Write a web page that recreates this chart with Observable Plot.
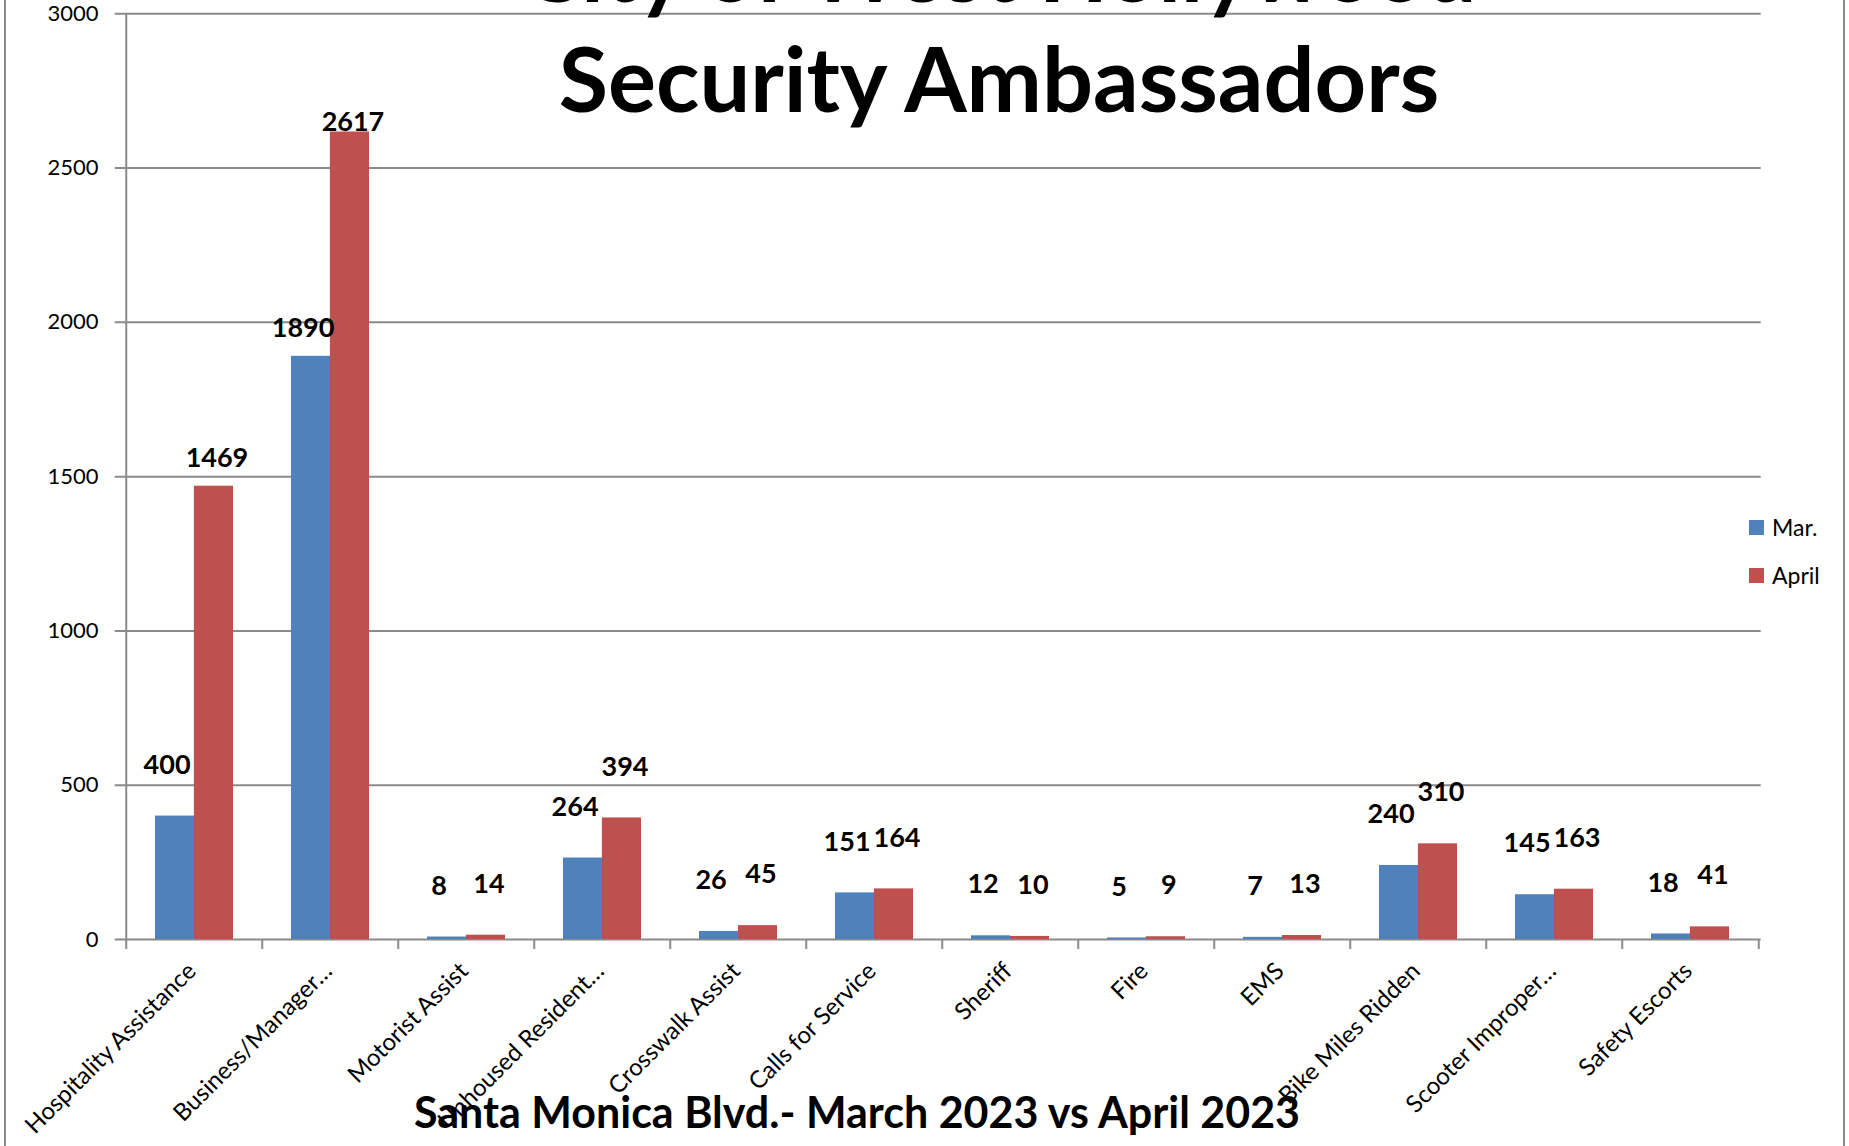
<!DOCTYPE html>
<html><head><meta charset="utf-8">
<script src="https://cdn.jsdelivr.net/npm/d3@7"></script>
<script src="https://cdn.jsdelivr.net/npm/@observablehq/plot@0.6"></script>
<style>
html,body{margin:0;padding:0;background:#fff;overflow:hidden}
#wrap{position:relative;width:1849px;height:1146px;font-family:Lato,sans-serif;background:#fff}
#wrap svg{position:absolute;left:0;top:0}
.border{position:absolute;top:0;bottom:0;width:0;border-left:2px solid #8c8c8c}
.title{position:absolute;font-weight:bold;font-size:90px;line-height:1;white-space:nowrap;color:#000;text-align:center;width:1400px;left:299px}
.sub{position:absolute;font-weight:bold;font-size:43px;line-height:1;white-space:nowrap;color:#000;text-align:center;width:1200px;left:257px;top:1090px}
.leg{position:absolute;left:1749px;font-size:23px;line-height:1;display:flex;align-items:center;color:#000}
.leg span.sw{display:inline-block;width:15px;height:15px;margin-right:8px}
</style></head><body><div id="wrap"></div><script>
const categories = ["Hospitality Assistance","Business/Manager…","Motorist Assist","Unhoused Resident…","Crosswalk Assist","Calls for Service","Sheriff","Fire","EMS","Bike Miles Ridden","Scooter Improper…","Safety Escorts"];
const marValues = [400,1890,8,264,26,151,12,5,7,240,145,18];
const aprilValues = [1469,2617,14,394,45,164,10,9,13,310,163,41];
const seriesNames = ["Mar.","April"];
const seriesColors = ["#4F81BD","#C0504D"];
const yTicks = [0,500,1000,1500,2000,2500,3000];
const titleLines = ["City of West Hollywood","Security Ambassadors"];
const subtitle = "Santa Monica Blvd.- March 2023 vs April 2023";

const mar = categories.map((c,i)=>({category:c, series:seriesNames[0], value:marValues[i]}));
const apr = categories.map((c,i)=>({category:c, series:seriesNames[1], value:aprilValues[i]}));

const W=1849, H=1146, mL=122.7, mR=88.3, mT=13.3, mB=207;
const step=(W-mL-mR)/categories.length;
const half=step*0.57/2;
const gridColor="#8a8a8a";
const labelDy = v => v >= 2500 ? -10 : v >= 1000 ? -28 : -51;
const dyGroups = [-51,-28,-10];

function valueLabels(rows, dx){
  return dyGroups.map(dy => Plot.text(rows.filter(d=>labelDy(d.value)===dy), {
    x:"category", y:"value", text:d=>String(d.value), dx, dy,
    lineAnchor:"middle", fontSize:27, fontWeight:"bold", fill:"#000"
  }));
}

const chart = Plot.plot({
  width:W, height:H, marginLeft:mL, marginRight:mR, marginTop:mT, marginBottom:mB,
  style:{fontFamily:"Lato, sans-serif", background:"transparent", color:"#000"},
  x:{type:"band", domain:categories, paddingInner:0.43, paddingOuter:0.215, axis:null},
  y:{domain:[0,3000], axis:null},
  marks:[
    Plot.ruleY(yTicks, {y:d=>d, stroke:gridColor, strokeWidth:2, insetLeft:-8}),
    Plot.ruleX([categories[0]], {x:d=>d, dx:-step/2, stroke:gridColor, strokeWidth:2}),
    Plot.barY(mar, {x:"category", y:"value", fill:seriesColors[0], insetRight:half}),
    Plot.barY(apr, {x:"category", y:"value", fill:seriesColors[1], insetLeft:half}),
    Plot.ruleX(categories, {x:d=>d, y1:0, dx:-step/2, insetBottom:-10, stroke:gridColor, strokeWidth:2}),
    Plot.ruleX([categories[categories.length-1]], {x:d=>d, y1:0, dx:step/2, insetBottom:-10, stroke:gridColor, strokeWidth:2}),
    Plot.text(yTicks, {y:d=>d, frameAnchor:"left", text:d=>String(d), textAnchor:"end", dx:-24.7, fontSize:22, fill:"#000"}),
    Plot.text(categories, {x:d=>d, frameAnchor:"bottom", text:d=>d, rotate:-45, textAnchor:"end", lineAnchor:"bottom", dx:3, dy:33, fontSize:24, fill:"#000"}),
    ...valueLabels(mar, -half/2-8),
    ...valueLabels(apr, half/2+3)
  ]
});

const wrap = document.getElementById("wrap");
wrap.appendChild(chart);
const addDiv = (cls, txt, css) => { const d=document.createElement("div"); d.className=cls; d.textContent=txt; if(css) d.style.cssText+=css; wrap.appendChild(d); return d; };
addDiv("border","", "left:4px");
addDiv("border","", "left:1843px");
addDiv("title", titleLines[0], "top:-78px");
addDiv("title", titleLines[1], "top:32px");
addDiv("sub", subtitle);
seriesNames.forEach((s,i)=>{
  const d=document.createElement("div"); d.className="leg"; d.style.top=(516+i*47.5)+"px";
  const sw=document.createElement("span"); sw.className="sw"; sw.style.background=seriesColors[i];
  const t=document.createElement("span"); t.textContent=s;
  d.appendChild(sw); d.appendChild(t); wrap.appendChild(d);
});
</script></body></html>
